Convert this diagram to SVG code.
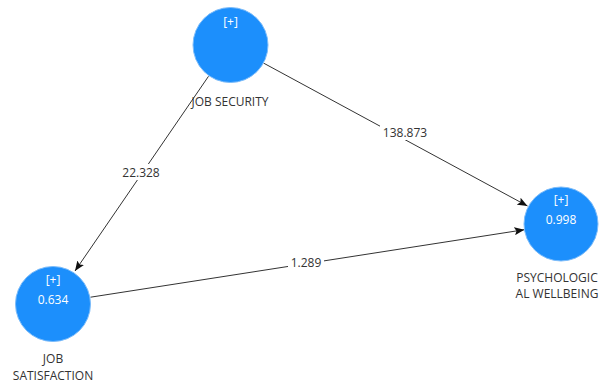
<svg xmlns="http://www.w3.org/2000/svg" width="600" height="385" viewBox="0 0 600 385">
<defs>
<style>
.node{fill:#1c8ffc;stroke:#7cbcfa;stroke-width:1}
.in{font-family:"Open Sans","Liberation Sans",sans-serif;font-size:12px;fill:#ffffff;text-anchor:middle}
.lbl{font-family:"Open Sans","Liberation Sans",sans-serif;font-size:12px;fill:#333333;text-anchor:middle}
.edge{stroke:#333333;stroke-width:1;fill:none;marker-end:url(#ah)}
.elbl{font-family:"Open Sans","Liberation Sans",sans-serif;font-size:12px;fill:#333333;text-anchor:middle}
.bg{fill:#ffffff}
</style>
<marker id="ah" markerWidth="10" markerHeight="8" refX="10" refY="4" orient="auto" markerUnits="userSpaceOnUse">
<path d="M0,0 L10,4 L0,8 L2,4 Z" fill="#111111"/>
</marker>
</defs>
<rect width="600" height="385" fill="#ffffff"/>
<g id="connectors">
<line class="edge" x1="208.5" y1="76.3" x2="75" y2="271"/>
<line class="edge" x1="263.4" y1="63" x2="527.5" y2="206"/>
<line class="edge" x1="90.5" y1="297.2" x2="524.4" y2="229.7"/>
<rect class="bg" x="119" y="164" width="44" height="16"/>
<text class="elbl" x="141" y="177">22.328</text>
<rect class="bg" x="380" y="124" width="50" height="16"/>
<text class="elbl" x="405" y="137">138.873</text>
<rect class="bg" x="288" y="254" width="36" height="16"/>
<text class="elbl" x="306" y="267">1.289</text>
</g>
<g id="job-security">
<circle class="node" cx="230.5" cy="45" r="37.5"/>
<text class="in" x="230.5" y="26">[+]</text>
<text class="lbl" x="230" y="106">JOB SECURITY</text>
</g>
<g id="job-satisfaction">
<circle class="node" cx="53" cy="304" r="37.5"/>
<text class="in" x="53" y="284">[+]</text>
<text class="in" x="53" y="304">0.634</text>
<text class="lbl" x="53" y="363">JOB</text>
<text class="lbl" x="53" y="380">SATISFACTION</text>
</g>
<g id="psychological-wellbeing">
<circle class="node" cx="561" cy="224" r="37"/>
<text class="in" x="561" y="204">[+]</text>
<text class="in" x="561" y="224">0.998</text>
<text class="lbl" x="557" y="282">PSYCHOLOGIC</text>
<text class="lbl" x="557" y="298">AL WELLBEING</text>
</g>
</svg>
